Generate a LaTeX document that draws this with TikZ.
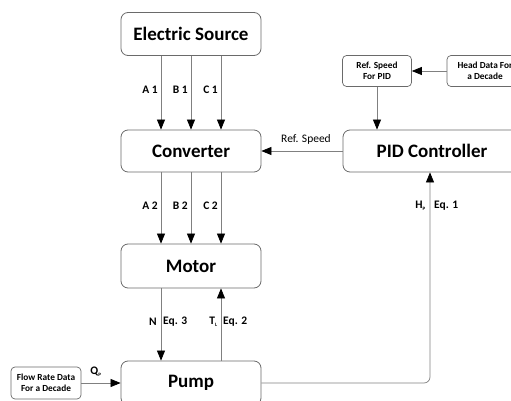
\documentclass[tikz,border=0pt]{standalone}
\usepackage{fontspec}
\setmainfont{Carlito}
\usetikzlibrary{arrows.meta}
\definecolor{boxline}{HTML}{6A6A6A}
\definecolor{conn}{HTML}{808080}
\tikzset{
  bigbox/.style={draw=boxline, line width=0.8pt, rounded corners=7pt, fill=white,
    minimum width=140pt, minimum height=43pt, inner sep=0pt,
    font=\fontsize{19}{21}\selectfont\bfseries},
  smallbox/.style={draw=boxline, line width=0.7pt, rounded corners=4pt, fill=white,
    minimum height=31pt, inner sep=0pt, align=center,
    font=\fontsize{9.3}{11.5}\selectfont\bfseries},
  conn/.style={draw=conn, line width=0.7pt, -{Triangle[length=10pt,width=8pt,color=black]}},
  lbl/.style={font=\fontsize{11.5}{13}\selectfont\bfseries, inner sep=1pt},
  slbl/.style={font=\fontsize{11.5}{13}\selectfont, inner sep=1pt},
}
\begin{document}
\begin{tikzpicture}[x=1pt,y=-1pt]
\useasboundingbox (0,0) rectangle (511,401);
\begin{scope}
\clip (0,0) rectangle (511,401);
% boxes
\node[bigbox] (es) at (191,34) {Electric Source};
\node[bigbox, minimum height=42pt] (conv) at (191,151) {Converter};
\node[bigbox, minimum height=44pt] (motor) at (191,266) {Motor};
\node[bigbox, minimum height=44pt] (pump) at (191,383) {Pump};
\node[bigbox, minimum width=178pt, minimum height=42pt] (pid) at (432,151) {PID Controller};
\node[smallbox, minimum width=69pt] (ref) at (377,71) {Ref. Speed\\For PID};
\node[smallbox, minimum width=76pt] (head) at (485,71) {Head Data For\\a Decade};
\node[smallbox, minimum width=70pt, minimum height=32pt] (flow) at (46,383) {Flow Rate Data\\For a Decade};
% coordinates
\coordinate (corner) at (430,383);
% source -> converter
\draw[conn] ([xshift=-30pt]es.south) -- ([xshift=-30pt]conv.north);
\draw[conn] (es.south) -- (conv.north);
\draw[conn] ([xshift=30pt]es.south) -- ([xshift=30pt]conv.north);
\node[lbl, anchor=east] at (159,90) {A 1};
\node[lbl, anchor=east] at (189,90) {B 1};
\node[lbl, anchor=east] at (219,90) {C 1};
% converter -> motor
\draw[conn] ([xshift=-30pt]conv.south) -- ([xshift=-30pt]motor.north);
\draw[conn] (conv.south) -- (motor.north);
\draw[conn] ([xshift=30pt]conv.south) -- ([xshift=30pt]motor.north);
\node[lbl, anchor=east] at (159,206) {A 2};
\node[lbl, anchor=east] at (189,206) {B 2};
\node[lbl, anchor=east] at (219,206) {C 2};
% motor <-> pump
\draw[conn] ([xshift=-30pt]motor.south) -- ([xshift=-30pt]pump.north);
\draw[conn] ([xshift=30pt]pump.north) -- ([xshift=30pt]motor.south);
\node[lbl, anchor=east] at (158,322) {N};
\node[lbl, anchor=west] at (162,322) {Eq. 3};
\node[lbl, anchor=east] at (219,322) {T\textsubscript{\fontsize{5}{6}\selectfont L}};
\node[lbl, anchor=west] at (222,322) {Eq. 2};
% PID -> converter
\draw[conn] (pid.west) -- (conv.east);
\node[slbl] at (306,139) {Ref. Speed};
% head -> ref
\draw[conn] (head.west) -- (ref.east);
% ref -> pid
\draw[conn] (ref.south) -- (ref.south |- pid.north);
% pump -> pid
\draw[conn, rounded corners=6pt] (pump.east) -- (corner) -- ([xshift=-2pt]pid.south);
\node[lbl, anchor=east] at (427,206) {H\textsubscript{\fontsize{5}{6}\selectfont P}};
\node[lbl, anchor=west] at (433,206) {Eq. 1};
% flow -> pump
\draw[conn] (flow.east) -- (pump.west);
\node[lbl, anchor=center] at (96,372) {Q\textsubscript{\fontsize{5}{6}\selectfont P}};
\end{scope}
\end{tikzpicture}
\end{document}
